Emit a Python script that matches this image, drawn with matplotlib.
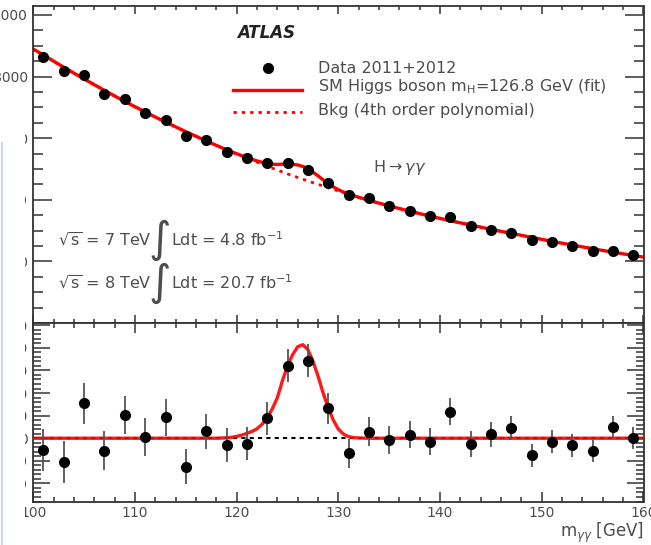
import numpy as np
import matplotlib
matplotlib.use("Agg")
import matplotlib.pyplot as plt
from matplotlib.ticker import MultipleLocator, AutoMinorLocator, FuncFormatter
from matplotlib.patches import Rectangle
from matplotlib.lines import Line2D

# data points, 2 GeV bins
mass = np.arange(101, 160, 2)
counts = [8627, 8182, 8052, 7445, 7263, 6828, 6591, 6071, 5932, 5562,
          5350, 5185, 5195, 4975, 4545, 4150, 4049, 3799, 3646, 3474,
          3432, 3149, 3029, 2912, 2695, 2620, 2490, 2347, 2347, 2208]
resid = [-52, -105, 154, -56, 102, 6, 92, -126, 30, -31,
         -24, 88, 321, 344, 132, -67, 28, -8, 16, -15,
         117, -25, 18, 44, -76, -15, -31, -56, 50, 1]
resid_err = [93, 91, 90, 86, 85, 83, 81, 78, 77, 75,
             73, 72, 72, 71, 67, 64, 64, 62, 60, 59,
             59, 56, 55, 54, 52, 51, 50, 48, 48, 47]

# background fit (4th order polynomial)
bkg_x = [100, 101, 103, 105, 107, 109, 111, 113, 115, 117, 119, 121, 123, 125,
         127, 129, 131, 133, 135, 137, 139, 141, 143, 145, 147, 149, 151, 153,
         155, 157, 159, 160]
bkg_y = [8890, 8700, 8300, 7920, 7550, 7190, 6850, 6520, 6210, 5910, 5620, 5350,
         5090, 4840, 4610, 4390, 4180, 3980, 3800, 3630, 3470, 3320, 3180, 3040,
         2910, 2780, 2650, 2530, 2410, 2300, 2190, 2140]

# signal shape (fit - bkg)
sig_x = [100, 118, 119, 119.5, 120, 120.5, 121, 121.5, 122, 122.5, 123, 123.5,
         124, 124.5, 125, 125.5, 126, 126.5, 127, 127.5, 128, 128.5, 129, 129.5,
         130, 130.5, 131, 131.5, 132, 133, 160]
sig_y = [0, 0, 2, 4, 8, 14, 21, 30, 42, 62, 90, 130,
         180, 255, 320, 370, 405, 414, 393, 340, 275, 200, 135, 80,
         40, 18, 7, 3, 1, 0, 0]

x_all = np.union1d(bkg_x, sig_x)
fit_all = np.interp(x_all, bkg_x, bkg_y) + np.interp(x_all, sig_x, sig_y)

W, H = 651, 545
fig = plt.figure(figsize=(W / 100, H / 100), dpi=100)
plt.rcParams['font.family'] = ['DejaVu Sans']
edge = '#333333'
txt = '#4d4d4d'

left = 33.3 / W
width = 610.2 / W
ax1 = fig.add_axes([left, 1 - 323 / H, width, (323 - 6) / H])
ax2 = fig.add_axes([left, 1 - 501.5 / H, width, (501.5 - 323) / H])

# upper panel
ax1.plot(bkg_x, bkg_y, color='red', lw=2, ls=(0, (1.2, 1.8)))
ax1.plot(x_all, fit_all, color='red', lw=2.4)
ax1.errorbar(mass, counts, yerr=np.sqrt(counts), fmt='o', color='black',
             ms=7, ecolor='#444444', elinewidth=1.3, capsize=0, zorder=5)
ax1.set_xlim(100, 160)
ax1.set_ylim(0, 10290)
ax1.xaxis.set_major_locator(MultipleLocator(10))
ax1.xaxis.set_minor_locator(MultipleLocator(2))
ax1.yaxis.set_major_locator(MultipleLocator(2000))
ax1.yaxis.set_minor_locator(MultipleLocator(500))
ax1.yaxis.set_major_formatter(FuncFormatter(lambda v, p: '' if v == 0 else f'{v:.0f}'))
ax1.tick_params(axis='both', which='both', direction='in', top=True, right=True,
                color=edge, width=1.1, labelcolor=txt, labelsize=10)
ax1.tick_params(axis='y', which='major', length=14, pad=4)
ax1.tick_params(axis='y', which='minor', length=7)
ax1.tick_params(axis='x', which='major', length=6, labelbottom=False)
ax1.tick_params(axis='x', which='minor', length=3)

# lower panel
ax2.axhline(0, color='black', lw=1.5, ls=(0, (2, 2)), zorder=2)
ax2.plot(sig_x, sig_y, color='red', lw=2.4, alpha=0.9, zorder=3)
ax2.errorbar(mass, resid, yerr=resid_err, fmt='o', color='black', ms=7,
             ecolor='#555555', elinewidth=1.3, capsize=0, zorder=5)
ax2.set_xlim(100, 160)
ax2.set_ylim(-280, 510)
ax2.xaxis.set_major_locator(MultipleLocator(10))
ax2.xaxis.set_minor_locator(MultipleLocator(2))
ax2.yaxis.set_major_locator(MultipleLocator(100))
ax2.yaxis.set_minor_locator(AutoMinorLocator(5))
ax2.tick_params(axis='both', which='both', direction='in', top=True, right=True,
                color=edge, width=1.1, labelcolor=txt, labelsize=10)
ax2.tick_params(axis='y', which='major', length=12, pad=4)
ax2.tick_params(axis='y', which='minor', length=6)
ax2.tick_params(axis='x', which='major', length=7, pad=3)
ax2.tick_params(axis='x', which='minor', length=3.5)
ax2.set_xlabel(r'm$_{\gamma\gamma}$ [GeV]', loc='right', fontsize=12,
               color=txt, labelpad=1)

for ax in (ax1, ax2):
    for s in ax.spines.values():
        s.set_color(edge)
        s.set_linewidth(1.3)

# labels and legend
ax1.text(0.334, 0.915, 'ATLAS', transform=ax1.transAxes, fontsize=12,
         fontweight='bold', fontstyle='italic', color='#222222', va='center')
ax1.plot([0.385], [0.804], 'o', color='black', ms=7, transform=ax1.transAxes,
         clip_on=False)
ax1.add_line(Line2D([0.328, 0.440], [0.736, 0.736], color='red', lw=2.4,
                    transform=ax1.transAxes))
ax1.add_line(Line2D([0.328, 0.440], [0.667, 0.667], color='red', lw=2,
                    ls=(0, (1.2, 1.8)), transform=ax1.transAxes))
leg_kw = dict(transform=ax1.transAxes, fontsize=11.5, color=txt, va='center')
ax1.text(0.467, 0.804, 'Data 2011+2012', **leg_kw)
ax1.text(0.467, 0.745, r'SM Higgs boson m$_{\mathregular{H}}$=126.8 GeV (fit)', **leg_kw)
ax1.text(0.467, 0.670, 'Bkg (4th order polynomial)', **leg_kw)
ax1.text(0.557, 0.489, r'H$\rightarrow\gamma\gamma$', **leg_kw)

lumi_kw = dict(transform=ax1.transAxes, fontsize=11.5, color=txt, va='center')
ax1.text(0.040, 0.262, r'$\sqrt{\mathregular{s}}$ = 7 TeV', **lumi_kw)
ax1.text(0.040, 0.126, r'$\sqrt{\mathregular{s}}$ = 8 TeV', **lumi_kw)
ax1.text(0.189, 0.262, '\u222b', transform=ax1.transAxes, fontsize=31,
         color=txt, va='center')
ax1.text(0.189, 0.126, '\u222b', transform=ax1.transAxes, fontsize=31,
         color=txt, va='center')
ax1.text(0.226, 0.262, r'Ldt = 4.8 fb$^{\mathregular{-1}}$', **lumi_kw)
ax1.text(0.226, 0.126, r'Ldt = 20.7 fb$^{\mathregular{-1}}$', **lumi_kw)

# page edge covering the left part of the tick labels
fig.add_artist(Rectangle((0, 0), 25 / W, (H - 128) / H, transform=fig.transFigure,
                         facecolor='white', edgecolor='none', zorder=10))
fig.add_artist(Line2D([1.5 / W, 1.5 / W], [0, (H - 143) / H], color='#cfd5ea',
                      lw=1.5, transform=fig.transFigure, zorder=11))

fig.savefig('out.png', dpi=100)
